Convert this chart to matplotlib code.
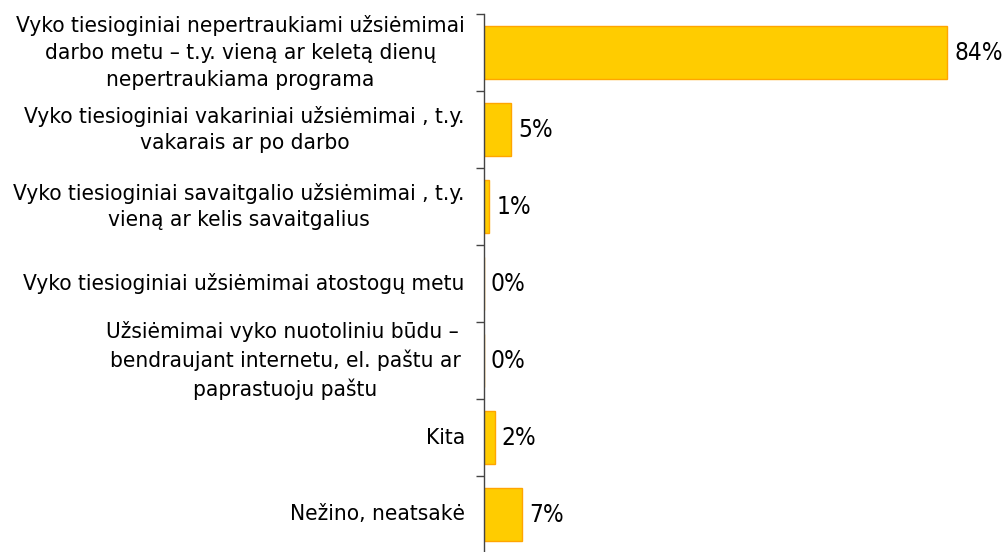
import matplotlib
matplotlib.use('Agg')
import matplotlib.pyplot as plt
from matplotlib.transforms import offset_copy
import numpy as np

categories = [
    'Vyko tiesioginiai nepertraukiami užsiėmimai\ndarbo metu – t.y. vieną ar keletą dienų\nnepertraukiama programa',
    'Vyko tiesioginiai vakariniai užsiėmimai , t.y.\nvakarais ar po darbo',
    'Vyko tiesioginiai savaitgalio užsiėmimai , t.y.\nvieną ar kelis savaitgalius',
    'Vyko tiesioginiai užsiėmimai atostogų metu',
    'Užsiėmimai vyko nuotoliniu būdu – \nbendraujant internetu, el. paštu ar\npaprastuoju paštu',
    'Kita',
    'Nežino, neatsakė',
]
values = [84, 5, 1, 0, 0, 2, 7]
value_labels = ['84%', '5%', '1%', '0%', '0%', '2%', '7%']

plt.rcParams['font.family'] = ['DejaVu Sans']
plt.rcParams['font.stretch'] = 'condensed'

W, H = 1008, 552
fig = plt.figure(figsize=(W / 100, H / 100), dpi=100)
x0 = 483.5
y_top = 14
ax = fig.add_axes([x0 / W, -1 / H, (W - x0) / W, (H - y_top + 1) / H])

px_per_pct = 5.52
ax.set_xlim(0, (W - x0) / px_per_pct)
ax.set_ylim(len(values) - 0.5, -0.5)

y = np.arange(len(values))
ax.barh(y, values, height=0.68, color='#ffcc00', edgecolor='#ffa500', linewidth=1)

for yi, v, lab in zip(y, values, value_labels):
    ax.text(v + 1.3, yi, lab, va='center', ha='left', fontsize=17.5, color='black')

for s in ['top', 'right', 'bottom']:
    ax.spines[s].set_visible(False)
ax.spines['left'].set_color('#444444')
ax.spines['left'].set_linewidth(1)

ax.set_xticks([])
ax.set_yticks(y)
ax.set_yticklabels(categories, fontsize=16.2, ha='right', va='center',
                   multialignment='center', linespacing=1.42)
ax.tick_params(axis='y', which='major', length=0, pad=0)
ax.set_yticks(np.arange(-0.5, len(values) + 0.5, 1), minor=True)
ax.tick_params(axis='y', which='minor', length=6, width=1, color='#444444', direction='out')

for t in ax.get_yticklabels():
    t.set_transform(offset_copy(ax.get_yaxis_transform(which='tick1'), fig=fig,
                                x=-13.5, y=0, units='points'))

fig.savefig('out.png', dpi=100)
